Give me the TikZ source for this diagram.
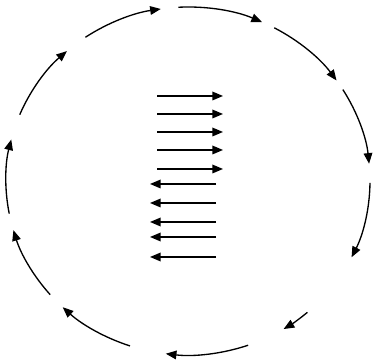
\documentclass[tikz,border=0pt]{standalone}
\usetikzlibrary{arrows.meta}

\begin{document}
\begin{tikzpicture}[scale=0.02646]

        \tikzset{flow/.style={line width=1pt, -{Triangle[length=8pt, width=6.5pt]}}}

        \useasboundingbox (0,0) rectangle (375,364);
        \coordinate (centre) at (188,183);

        % --- Outer ring: eleven pieces, running clockwise ---
        \foreach \a/\b in {124.3/98.6, 93/66, 61.7/35.3, 31.7/5.7, -0.6/-26,
                           -49/-58.3, -70.7/-97, -108.6/-133.5, -139.2/-163.6,
                           190.8/166.2, 157.6/131.7}
            \draw[flow] ([shift={(\a:182 and 174)}]centre)
                arc[start angle=\a, end angle=\b, x radius=182, y radius=174];

        % --- Middle: upper row points right, lower row points left ---
        \foreach \y in {268, 250, 232, 214, 195}
            \draw[flow] (157,\y) -- (223,\y);
        \foreach \y in {180, 161, 142, 127, 107}
            \draw[flow] (216,\y) -- (150,\y);

\end{tikzpicture}
\end{document}
